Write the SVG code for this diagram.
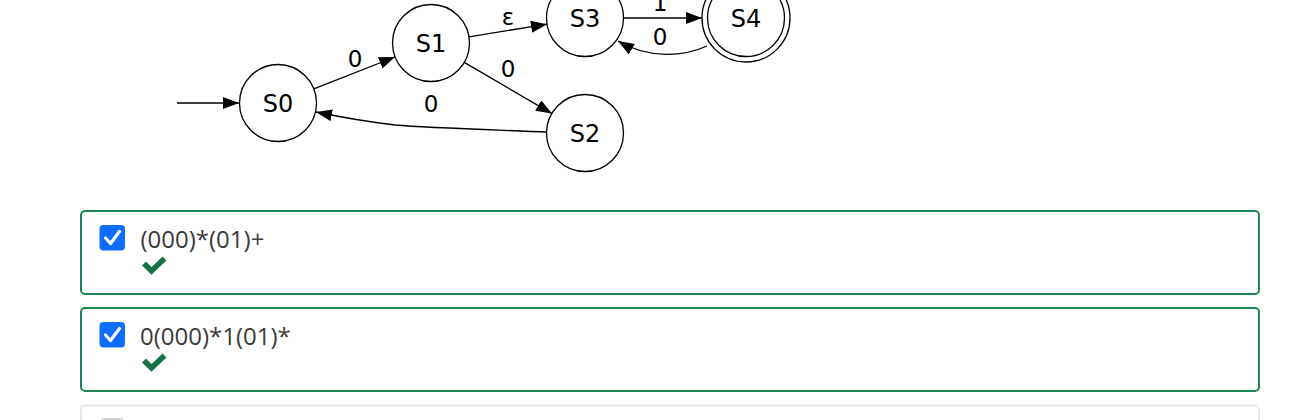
<svg xmlns="http://www.w3.org/2000/svg" width="1304" height="420" viewBox="0 0 1304 420">
<style>
.node circle{fill:#fff;stroke:#000;stroke-width:1.3}
.nl{font-family:"DejaVu Sans",sans-serif;font-size:24px;text-anchor:middle;fill:#000}
.el{font-family:"DejaVu Sans",sans-serif;font-size:23px;text-anchor:middle;fill:#000}
.edge{fill:none;stroke:#000;stroke-width:1.3}
.box{fill:#fff;stroke:#198754;stroke-width:2}
.cb{fill:#0d6efd}
.tick{fill:none;stroke:#fff;stroke-width:3.2;stroke-linecap:round;stroke-linejoin:round}
.ok{fill:none;stroke:#157347;stroke-width:5.5;stroke-linejoin:miter}
.opt{font-family:"Open Sans",sans-serif;font-size:24px;fill:#3a3a3a}
</style>
<defs>
<marker id="ah" markerUnits="userSpaceOnUse" markerWidth="17" markerHeight="13" refX="16" refY="6" orient="auto">
<path d="M0,0 L16,6 L0,12 z" fill="#000"/>
</marker>
</defs>
<rect width="1304" height="420" fill="#fff"/>
<g id="edges">
<path class="edge" d="M177,103 L239,103" marker-end="url(#ah)"/>
<path class="edge" d="M313.8,88.9 L395,57" marker-end="url(#ah)"/>
<text class="el" x="355" y="66.5">0</text>
<path class="edge" d="M469,36.8 L547,24.2" marker-end="url(#ah)"/>
<text class="el" x="508" y="25">ε</text>
<path class="edge" d="M464.2,62.4 L552,113.6" marker-end="url(#ah)"/>
<text class="el" x="508" y="77">0</text>
<path class="edge" d="M546.5,132 C500,130 430,128 395,125 C370,122 340,117 316,112" marker-end="url(#ah)"/>
<text class="el" x="431" y="111.5">0</text>
<path class="edge" d="M623.5,18 L702,18" marker-end="url(#ah)"/>
<text class="el" x="660" y="11">1</text>
<path class="edge" d="M707,46 C685,56 650,60 618,41" marker-end="url(#ah)"/>
<text class="el" x="660" y="45">0</text>
</g>
<g id="S0" class="node"><circle cx="278" cy="103" r="38.5"/><text class="nl" x="278" y="111.7">S0</text></g>
<g id="S1" class="node"><circle cx="431" cy="43" r="38.5"/><text class="nl" x="431" y="51.7">S1</text></g>
<g id="S2" class="node"><circle cx="585" cy="133" r="38.5"/><text class="nl" x="585" y="141.7">S2</text></g>
<g id="S3" class="node"><circle cx="585" cy="18" r="38.5"/><text class="nl" x="585" y="26.7">S3</text></g>
<g id="S4" class="node"><circle cx="746" cy="18" r="44"/><circle cx="746" cy="18" r="38.5"/><text class="nl" x="746" y="26.7">S4</text></g>
<g id="opt1">
<rect class="box" x="81" y="211" width="1178" height="83" rx="4"/>
<rect class="cb" x="99.5" y="225" width="25.5" height="25.5" rx="4"/>
<path class="tick" d="M105.5,238 L110.5,243.5 L119.5,231.5"/>
<text class="opt" x="140.5" y="247.5">(000)*(01)+</text>
<path class="ok" d="M144,263.5 L151.5,271 L164.5,258.5"/>
</g>
<g id="opt2">
<rect class="box" x="81" y="308" width="1178" height="83" rx="4"/>
<rect class="cb" x="99.5" y="322" width="25.5" height="25.5" rx="4"/>
<path class="tick" d="M105.5,335 L110.5,340.5 L119.5,328.5"/>
<text class="opt" x="140" y="344.5">0(000)*1(01)*</text>
<path class="ok" d="M144,360.5 L151.5,368 L164.5,355.5"/>
</g>
<g id="opt3">
<rect x="81" y="405.5" width="1178" height="40" rx="4" fill="#fff" stroke="#dee2e6" stroke-width="1.5"/>
<rect x="100.5" y="419" width="24" height="24" rx="4" fill="#fff" stroke="#c8c8c8" stroke-width="1.5"/>
</g>
</svg>
